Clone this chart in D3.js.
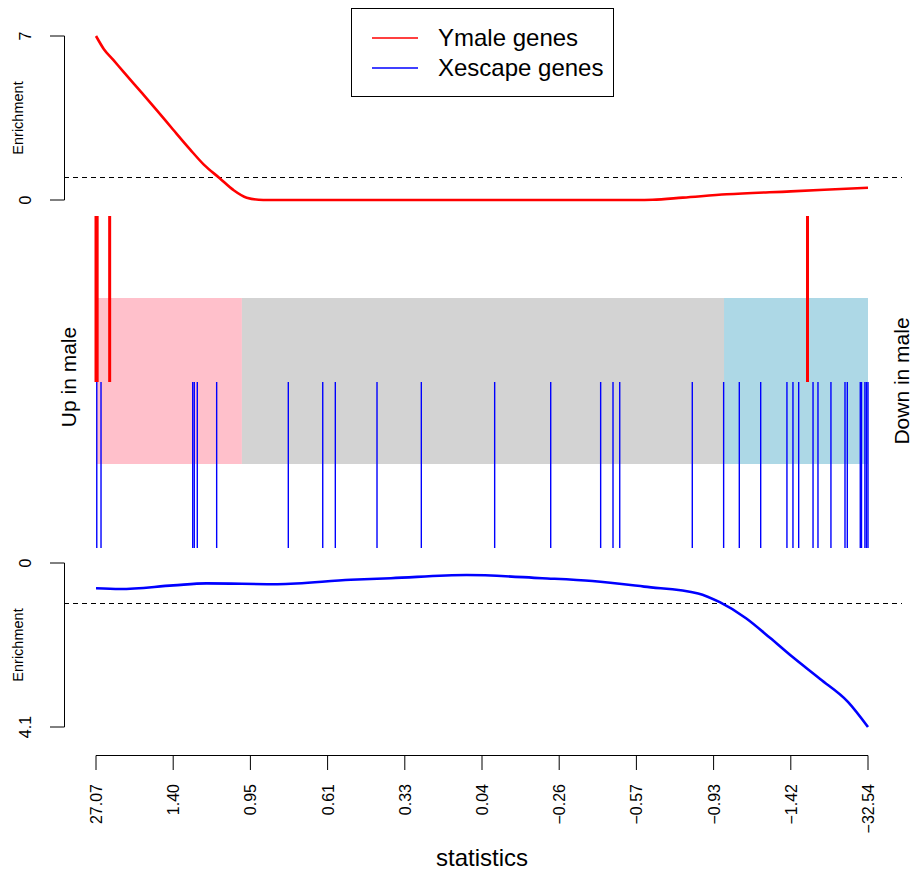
<!DOCTYPE html>
<html><head><meta charset="utf-8">
<script src="https://cdn.jsdelivr.net/npm/d3@7"></script>
<style>body{margin:0;background:#fff}svg{display:block;font-family:"Liberation Sans",Arial,sans-serif}</style>
</head><body>
<script>
// ranks out of 1000
const tickRanks = [0,100,200,300,400,500,600,700,800,900,1000];
const tickLabels = ["27.07","1.40","0.95","0.61","0.33","0.04","\u22120.26","\u22120.57","\u22120.93","\u22121.42","\u221232.54"];
const ymaleRanks = [0, 1.5, 17.7, 921.6];
const xescapeRanks = [1,6.5,125.3,127.3,131.2,156.3,249.1,293.7,310,364,421.4,516.4,589,653.7,669.7,678.4,772.4,813,833.3,861,895,902.8,910.2,928.8,935.2,952,970.2,973.2,990,991.6,996,998,1000];
const regionBreaks = [0, 189, 813.5, 1000];
const regionColors = ["pink","lightgrey","lightblue"];
const ymaleEnrichRank = [0,10,22.4,35.4,60,78.6,100,121.8,140,160.6,177.8,195.2,216.7,300,500,700,721,760,817,900,1000];
const ymaleEnrich     = [7,6.45,5.98,5.48,4.55,3.84,3.0,2.16,1.5,0.92,0.43,0.10,0,0,0,0,0.01,0.1,0.245,0.37,0.52];
const xescEnrichRank = [0,31,100,143,235,330,382,480,578,643,710,780,808,842,873,901.6,938,974,1000];
const xescEnrich     = [0.63,0.65,0.56,0.51,0.53,0.42,0.38,0.30,0.38,0.45,0.59,0.76,0.98,1.38,1.87,2.34,2.9,3.47,4.1];
const enrichThreshold = 1;

const W=912,H=871;
const svg=d3.select("body").append("svg").attr("width",W).attr("height",H);
const x=d3.scaleLinear().domain([0,1000]).range([96,868]);
const yTop=d3.scaleLinear().domain([0,7]).range([200,36]);
const yBot=d3.scaleLinear().domain([0,4.1]).range([563,727]);

// regions
svg.selectAll("rect.reg").data(regionColors).enter().append("rect")
  .attr("x",(d,i)=>x(regionBreaks[i])).attr("width",(d,i)=>x(regionBreaks[i+1])-x(regionBreaks[i]))
  .attr("y",298).attr("height",166).attr("fill",d=>d);

// barcodes
svg.selectAll("line.xe").data(xescapeRanks).enter().append("line")
  .attr("x1",d=>x(d)).attr("x2",d=>x(d)).attr("y1",382).attr("y2",548)
  .attr("stroke","blue").attr("stroke-width",1.4);
svg.selectAll("line.ym").data(ymaleRanks).enter().append("line")
  .attr("x1",d=>x(d)).attr("x2",d=>x(d)).attr("y1",216).attr("y2",382)
  .attr("stroke","red").attr("stroke-width",3);

// threshold dashed lines
[yTop(enrichThreshold),yBot(enrichThreshold)].forEach(yy=>{
  svg.append("line").attr("x1",64).attr("x2",902).attr("y1",Math.round(yy)+0.5).attr("y2",Math.round(yy)+0.5)
    .attr("stroke","black").attr("stroke-width",1.2).attr("stroke-dasharray","5,4");
});

// curves
const lineTop=d3.line().x((d,i)=>x(ymaleEnrichRank[i])).y(d=>yTop(d)).curve(d3.curveMonotoneX);
svg.append("path").attr("d",lineTop(ymaleEnrich)).attr("fill","none").attr("stroke","red").attr("stroke-width",2.6);
const lineBot=d3.line().x((d,i)=>x(xescEnrichRank[i])).y(d=>yBot(d)).curve(d3.curveMonotoneX);
svg.append("path").attr("d",lineBot(xescEnrich)).attr("fill","none").attr("stroke","blue").attr("stroke-width",2.6);

// y axes
function yAxis(scale, vals, labels){
  const r=scale.range();
  svg.append("line").attr("x1",64.5).attr("x2",64.5).attr("y1",r[0]).attr("y2",r[1]).attr("stroke","black");
  vals.forEach((v,i)=>{
    const yy=scale(v);
    svg.append("line").attr("x1",50).attr("x2",64.5).attr("y1",yy).attr("y2",yy).attr("stroke","black");
    svg.append("text").attr("transform",`translate(31,${yy}) rotate(-90)`).attr("text-anchor","middle")
      .attr("font-size",16).text(labels[i]);
  });
  svg.append("text").attr("transform",`translate(23,${(r[0]+r[1])/2}) rotate(-90)`).attr("text-anchor","middle")
    .attr("font-size",14.5).text("Enrichment");
}
yAxis(yTop,[0,7],["0","7"]);
yAxis(yBot,[0,4.1],["0","4.1"]);

// x axis
svg.append("line").attr("x1",x(0)).attr("x2",x(1000)).attr("y1",755.5).attr("y2",755.5).attr("stroke","black");
tickRanks.forEach((t,i)=>{
  svg.append("line").attr("x1",x(t)).attr("x2",x(t)).attr("y1",755.5).attr("y2",770).attr("stroke","black");
  svg.append("text").attr("transform",`translate(${x(t)+6},784) rotate(-90)`).attr("text-anchor","end")
    .attr("font-size",16).text(tickLabels[i]);
});
svg.append("text").attr("x",482).attr("y",866).attr("text-anchor","middle").attr("font-size",24).text("statistics");

svg.append("text").attr("transform",`translate(76,377) rotate(-90)`).attr("text-anchor","middle").attr("font-size",21).text("Up in male");
svg.append("text").attr("transform",`translate(909,381) rotate(-90)`).attr("text-anchor","middle").attr("font-size",21).text("Down in male");

// legend
svg.append("rect").attr("x",351.5).attr("y",8.5).attr("width",262).attr("height",88).attr("fill","white").attr("stroke","black");
[["Ymale genes","red",38],["Xescape genes","blue",68]].forEach(([t,c,yy])=>{
  svg.append("line").attr("x1",372).attr("x2",418).attr("y1",yy).attr("y2",yy).attr("stroke",c).attr("stroke-width",1.5);
  svg.append("text").attr("x",438).attr("y",yy+8).attr("font-size",24).text(t);
});
</script>
</body></html>
